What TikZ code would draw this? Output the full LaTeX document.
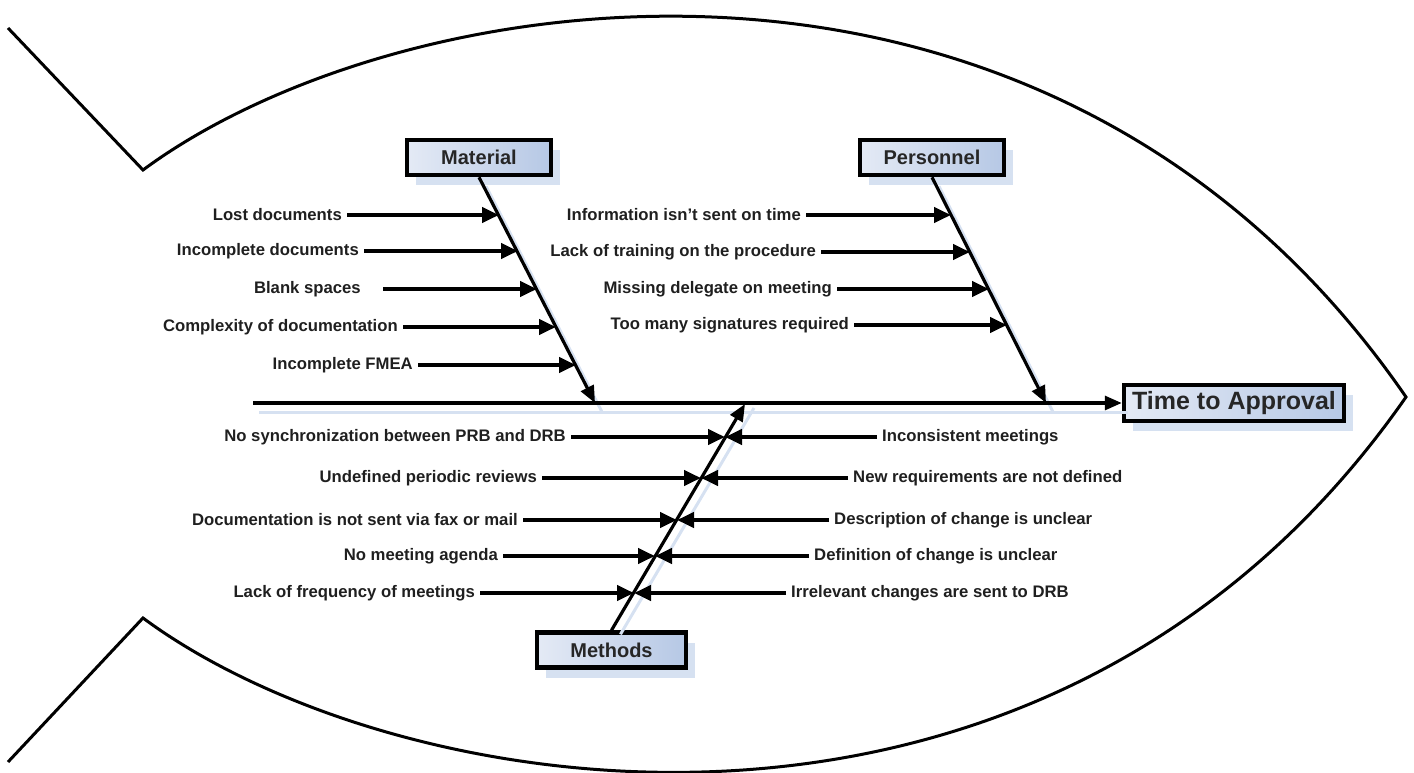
\documentclass[tikz,border=0pt]{standalone}
\usepackage{fontspec}
\setmainfont{Liberation Sans}
\usepackage{tikz}
\usetikzlibrary{arrows.meta}
\usetikzlibrary{shadows}

\definecolor{boxlight}{RGB}{228,234,245}
\definecolor{boxdark}{RGB}{182,200,229}
\definecolor{shadeblue}{RGB}{214,225,241}

\tikzset{
  cause/.style={font=\bfseries\fontsize{16.7}{19}\selectfont, text=black!88,
    inner xsep=5pt, inner ysep=1pt},
  causearrow/.style={line width=4pt, -{Triangle[length=17pt,width=15pt]}},
  bonearrow/.style={line width=3.2pt, -{Triangle[length=17pt,width=14pt]}},
  boneshadow/.style={line width=3pt, draw=shadeblue},
  catbox/.style={draw, line width=4.5pt, left color=boxlight, right color=boxdark,
    text=black!85, font=\bfseries\fontsize{20}{24}\selectfont,
    minimum height=35pt, inner sep=0pt,
    drop shadow={shadow xshift=9pt, shadow yshift=-10pt, fill=shadeblue, opacity=1}},
  fish/.style={line width=3pt, line join=miter}
}

\begin{document}
\begin{tikzpicture}[x=1pt, y=-1pt]
    \useasboundingbox (0,0) rectangle (1414,773);
    \draw[fish] (8,28) -- (143,170)
      .. controls (400,-20) and (1050,-120) .. (1406,397)
      .. controls (1050,908) and (400,808) .. (143,618)
      -- (8,762);

    \node[catbox, minimum width=144pt] (matbox) at (479,157.5) {Material};
    \node[catbox, minimum width=144pt] (perbox) at (932,157.5) {Personnel};
    \node[catbox, minimum width=149pt] (methbox) at (611.5,650) {Methods};
    \node[catbox, minimum width=220pt, minimum height=36pt,
      font=\bfseries\fontsize{25}{30}\selectfont] (goal) at (1234,403) {Time to Approval};

    \coordinate (tail) at (253,403);
    \coordinate (mattip) at (595,403);
    \coordinate (pertip) at (1046,403);
    \coordinate (methtip) at (745,404);

    \draw[boneshadow] ([shift={(6,9)}]tail) -- ([shift={(6,9)}]goal.west);
    \draw[boneshadow] ([shift={(7,9)}]matbox.south) -- ([shift={(7,9)}]mattip);
    \draw[boneshadow] ([shift={(7,9)}]perbox.south) -- ([shift={(7,9)}]pertip);
    \draw[boneshadow] ([shift={(9,4)}]methbox.north) -- ([shift={(9,4)}]methtip);

    \draw[bonearrow] (tail) -- (goal.west);
    \draw[bonearrow] (matbox.south) -- (mattip);
    \draw[bonearrow] (perbox.south) -- (pertip);
    \draw[bonearrow] (methbox.north) -- (methtip);

    \node[cause, anchor=east] (m1) at (347,215) {Lost documents};
    \node[cause, anchor=east] (m2) at (364,251) {Incomplete documents};
    \node[cause, anchor=east] (m3) at (366,289) {Blank spaces};
    \node[cause, anchor=east] (m4) at (403,327) {Complexity of documentation};
    \node[cause, anchor=east] (m5) at (418,365) {Incomplete FMEA};
    \coordinate (tm1) at (499,215);
    \coordinate (tm2) at (518,251);
    \coordinate (tm3) at (537,289);
    \coordinate (tm4) at (556,327);
    \coordinate (tm5) at (576,365);
    \draw[causearrow] (m1) -- (tm1);
    \draw[causearrow] (m2) -- (tm2);
    \draw[causearrow, shorten <=17pt] (m3) -- (tm3);
    \draw[causearrow] (m4) -- (tm4);
    \draw[causearrow] (m5) -- (tm5);

    \node[cause, anchor=east] (p1) at (806,215) {Information isn’t sent on time};
    \node[cause, anchor=east] (p2) at (821,252) {Lack of training on the procedure};
    \node[cause, anchor=east] (p3) at (837,289) {Missing delegate on meeting};
    \node[cause, anchor=east] (p4) at (854,325) {Too many signatures required};
    \coordinate (tp1) at (951,215);
    \coordinate (tp2) at (970,252);
    \coordinate (tp3) at (989,289);
    \coordinate (tp4) at (1007,325);
    \draw[causearrow] (p1) -- (tp1);
    \draw[causearrow] (p2) -- (tp2);
    \draw[causearrow] (p3) -- (tp3);
    \draw[causearrow] (p4) -- (tp4);

    \node[cause, anchor=east] (l1) at (571,437) {No synchronization between PRB and DRB};
    \node[cause, anchor=east] (l2) at (542,478) {Undefined periodic reviews};
    \node[cause, anchor=east] (l3) at (523,520) {Documentation is not sent via fax or mail};
    \node[cause, anchor=east] (l4) at (503,556) {No meeting agenda};
    \node[cause, anchor=east] (l5) at (480,593) {Lack of frequency of meetings};
    \node[cause, anchor=west] (r1) at (877,437) {Inconsistent meetings};
    \node[cause, anchor=west] (r2) at (848,478) {New requirements are not defined};
    \node[cause, anchor=west] (r3) at (829,520) {Description of change is unclear};
    \node[cause, anchor=west] (r4) at (809,556) {Definition of change is unclear};
    \node[cause, anchor=west] (r5) at (786,593) {Irrelevant changes are sent to DRB};
    \coordinate (tb1) at (725,437);
    \coordinate (tb2) at (701,478);
    \coordinate (tb3) at (677,520);
    \coordinate (tb4) at (655,556);
    \coordinate (tb5) at (634,593);
    \draw[causearrow] (l1) -- (tb1);
    \draw[causearrow] (r1) -- (tb1);
    \draw[causearrow] (l2) -- (tb2);
    \draw[causearrow] (r2) -- (tb2);
    \draw[causearrow] (l3) -- (tb3);
    \draw[causearrow] (r3) -- (tb3);
    \draw[causearrow] (l4) -- (tb4);
    \draw[causearrow] (r4) -- (tb4);
    \draw[causearrow] (l5) -- (tb5);
    \draw[causearrow] (r5) -- (tb5);
\end{tikzpicture}
\end{document}
